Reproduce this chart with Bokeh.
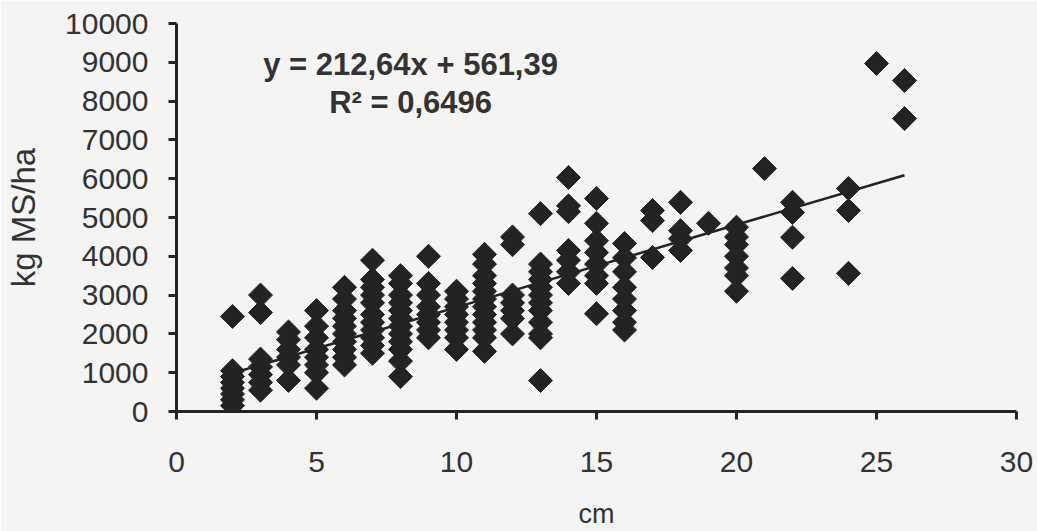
import math
from bokeh.plotting import figure
from bokeh.models import Label, Range1d, FixedTicker, ColumnDataSource
from bokeh.embed import file_html
from bokeh.resources import INLINE

# Data (x = cm, y = kg MS/ha)
x_cm = (
    [2] * 8 + [3] * 7 + [4] * 6 + [5] * 8 + [6] * 10 + [7] * 11 + [8] * 12 + [9] * 8
    + [10] * 8 + [11] * 12 + [12] * 7 + [13] * 12 + [14] * 7 + [15] * 8 + [16] * 8
    + [17] * 3 + [18] * 4 + [19] * 1 + [20] * 7 + [21] * 1 + [22] * 4 + [24] * 3
    + [25] * 1 + [26] * 2
)
yield_kg = (
    [2450, 1050, 900, 750, 600, 450, 300, 150]
    + [3000, 2550, 1350, 1150, 950, 750, 550]
    + [2050, 1850, 1600, 1400, 1200, 800]
    + [2600, 2200, 1900, 1600, 1400, 1200, 1000, 600]
    + [3200, 2900, 2600, 2400, 2200, 2000, 1800, 1600, 1400, 1200]
    + [3900, 3400, 3200, 3000, 2800, 2500, 2300, 2100, 1900, 1700, 1500]
    + [3500, 3300, 3000, 2800, 2600, 2400, 2200, 2000, 1800, 1600, 1300, 900]
    + [4000, 3300, 3000, 2700, 2500, 2300, 2100, 1900]
    + [3100, 2900, 2700, 2500, 2300, 2100, 1900, 1600]
    + [4050, 3800, 3500, 3300, 3100, 2900, 2700, 2500, 2300, 2100, 1900, 1550]
    + [4500, 4300, 3000, 2800, 2600, 2400, 2000]
    + [5100, 3800, 3600, 3400, 3200, 3000, 2800, 2600, 2300, 2000, 1900, 800]
    + [6030, 5300, 5150, 4150, 3900, 3600, 3300]
    + [5490, 4850, 4400, 4100, 3800, 3500, 3300, 2520]
    + [4330, 3960, 3600, 3200, 2900, 2600, 2300, 2100]
    + [5180, 4920, 3970]
    + [5390, 4660, 4450, 4150]
    + [4850]
    + [4750, 4500, 4300, 4000, 3700, 3500, 3100]
    + [6260]
    + [5390, 5130, 4490, 3430]
    + [5750, 5180, 3560]
    + [8970]
    + [8530, 7550]
)

slope = 212.64
intercept = 561.39
trend_x = [2, 26]
trend_y = [slope * v + intercept for v in trend_x]

x_ticks = [0, 5, 10, 15, 20, 25, 30]
y_ticks = [0, 1000, 2000, 3000, 4000, 5000, 6000, 7000, 8000, 9000, 10000]

eq_text = "y = 212,64x + 561,39"
r2_text = "R² = 0,6496"

BG = "#f4f4f3"
INK = "#232323"
FONT = "Liberation Sans"

p = figure(
    width=1037, height=531, output_backend="svg", toolbar_location=None,
    x_range=Range1d(0, 30), y_range=Range1d(0, 10000),
    min_border_left=176, min_border_right=21, min_border_top=23, min_border_bottom=120,
)
p.background_fill_color = BG
p.border_fill_color = BG
p.outline_line_color = None
p.xgrid.visible = False
p.ygrid.visible = False

src = ColumnDataSource(dict(x=x_cm, y=yield_kg))
p.scatter("x", "y", source=src, marker="square", size=17, angle=math.pi / 4,
          fill_color=INK, line_color=INK)
p.line(trend_x, trend_y, line_color=INK, line_width=2.5)

for ax in (p.xaxis[0], p.yaxis[0]):
    ax.axis_line_width = 3
    ax.axis_line_color = INK
    ax.major_tick_line_width = 3
    ax.major_tick_line_color = INK
    ax.major_tick_out = 8
    ax.major_tick_in = 0
    ax.minor_tick_line_color = None
    ax.major_label_text_font = FONT
    ax.major_label_text_font_size = "30px"
    ax.major_label_text_color = "#333333"
    ax.axis_label_text_font = FONT
    ax.axis_label_text_font_style = "normal"
    ax.axis_label_text_color = "#333333"

p.xaxis.ticker = FixedTicker(ticks=x_ticks)
p.yaxis.ticker = FixedTicker(ticks=y_ticks)
p.xaxis.axis_label = "cm"
p.yaxis.axis_label = "kg MS/ha"
p.xaxis.axis_label_text_font_size = "27px"
p.yaxis.axis_label_text_font_size = "33px"
p.xaxis.major_label_standoff = 32
p.yaxis.major_label_standoff = 20
p.xaxis.axis_label_standoff = 24
p.yaxis.axis_label_standoff = 20

p.add_layout(Label(x=8.36, y=8950, text=eq_text, text_align="center", text_baseline="middle",
                   text_font=FONT, text_font_size="31px", text_font_style="bold",
                   text_color="#333333"))
p.add_layout(Label(x=8.36, y=7970, text=r2_text, text_align="center", text_baseline="middle",
                   text_font=FONT, text_font_size="31px", text_font_style="bold",
                   text_color="#333333"))

open("out.html", "w").write(file_html(p, INLINE))
